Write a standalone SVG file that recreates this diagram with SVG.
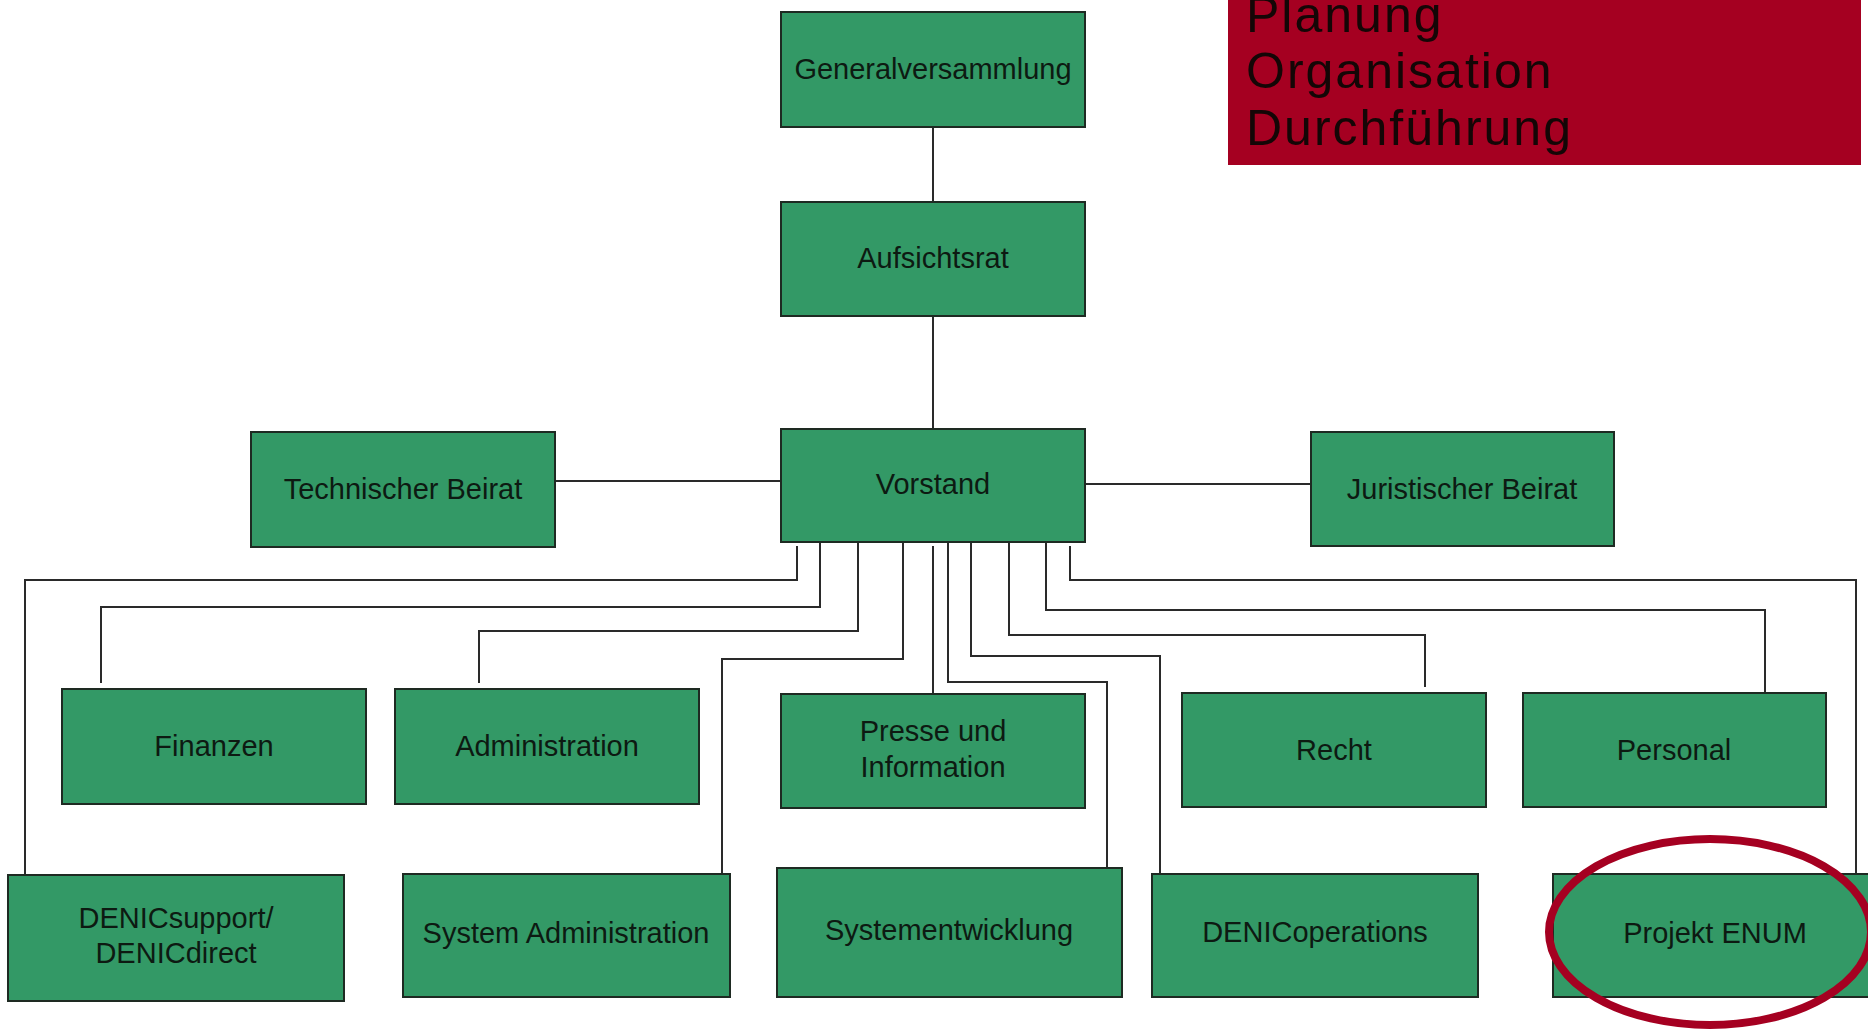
<svg xmlns="http://www.w3.org/2000/svg" width="1868" height="1030" viewBox="0 0 1868 1030">
<style>
.box{fill:#339966;stroke:#1e2a22;stroke-width:2}
.lbl{font-family:"Liberation Sans",Arial,sans-serif;font-size:29px;fill:#0d1a12;text-anchor:middle}
.con{fill:none;stroke:#2a2a2a;stroke-width:2}
.hdr{font-family:"Liberation Sans",Arial,sans-serif;font-size:50px;letter-spacing:2px;fill:#140606}
</style>
<rect width="1868" height="1030" fill="#ffffff"/>
<g id="header">
<rect x="1228" y="0" width="633" height="165" fill="#a50021"/>
<text class="hdr" x="1246" y="32">Planung</text>
<text class="hdr" x="1246" y="88">Organisation</text>
<text class="hdr" x="1246" y="145">Durchführung</text>
</g>
<g id="connectors">
<path class="con" d="M933 127V202"/>
<path class="con" d="M933 316V429"/>
<path class="con" d="M555 481H781"/>
<path class="con" d="M1085 484H1311"/>
<path class="con" d="M797 546V580H25V875"/>
<path class="con" d="M820 542V607H101V683"/>
<path class="con" d="M858 542V631H479V683"/>
<path class="con" d="M903 542V659H722V874"/>
<path class="con" d="M933 546V694"/>
<path class="con" d="M948 542V682H1107V868"/>
<path class="con" d="M971 542V656H1160V874"/>
<path class="con" d="M1009 542V635H1425V687"/>
<path class="con" d="M1046 542V610H1765V693"/>
<path class="con" d="M1070 546V580H1856V874"/>
</g>
<g id="n-generalversammlung"><rect class="box" x="781" y="12" width="304" height="115"/><text class="lbl" x="933" y="79">Generalversammlung</text></g>
<g id="n-aufsichtsrat"><rect class="box" x="781" y="202" width="304" height="114"/><text class="lbl" x="933" y="268">Aufsichtsrat</text></g>
<g id="n-vorstand"><rect class="box" x="781" y="429" width="304" height="113"/><text class="lbl" x="933" y="494">Vorstand</text></g>
<g id="n-technischer-beirat"><rect class="box" x="251" y="432" width="304" height="115"/><text class="lbl" x="403" y="499">Technischer Beirat</text></g>
<g id="n-juristischer-beirat"><rect class="box" x="1311" y="432" width="303" height="114"/><text class="lbl" x="1462" y="499">Juristischer Beirat</text></g>
<g id="n-finanzen"><rect class="box" x="62" y="689" width="304" height="115"/><text class="lbl" x="214" y="756">Finanzen</text></g>
<g id="n-administration"><rect class="box" x="395" y="689" width="304" height="115"/><text class="lbl" x="547" y="756">Administration</text></g>
<g id="n-presse"><rect class="box" x="781" y="694" width="304" height="114"/><text class="lbl" x="933" y="741">Presse und</text><text class="lbl" x="933" y="777">Information</text></g>
<g id="n-recht"><rect class="box" x="1182" y="693" width="304" height="114"/><text class="lbl" x="1334" y="760">Recht</text></g>
<g id="n-personal"><rect class="box" x="1523" y="693" width="303" height="114"/><text class="lbl" x="1674" y="760">Personal</text></g>
<g id="n-denicsupport"><rect class="box" x="8" y="875" width="336" height="126"/><text class="lbl" x="176" y="928">DENICsupport/</text><text class="lbl" x="176" y="963">DENICdirect</text></g>
<g id="n-system-administration"><rect class="box" x="403" y="874" width="327" height="123"/><text class="lbl" x="566" y="943">System Administration</text></g>
<g id="n-systementwicklung"><rect class="box" x="777" y="868" width="345" height="129"/><text class="lbl" x="949" y="940">Systementwicklung</text></g>
<g id="n-denicoperations"><rect class="box" x="1152" y="874" width="326" height="123"/><text class="lbl" x="1315" y="942">DENICoperations</text></g>
<g id="n-projekt-enum"><rect class="box" x="1553" y="874" width="325" height="123"/><text class="lbl" x="1715" y="943">Projekt ENUM</text></g>
<ellipse id="highlight" cx="1710" cy="932" rx="161" ry="93" fill="none" stroke="#a50021" stroke-width="8"/>
</svg>
